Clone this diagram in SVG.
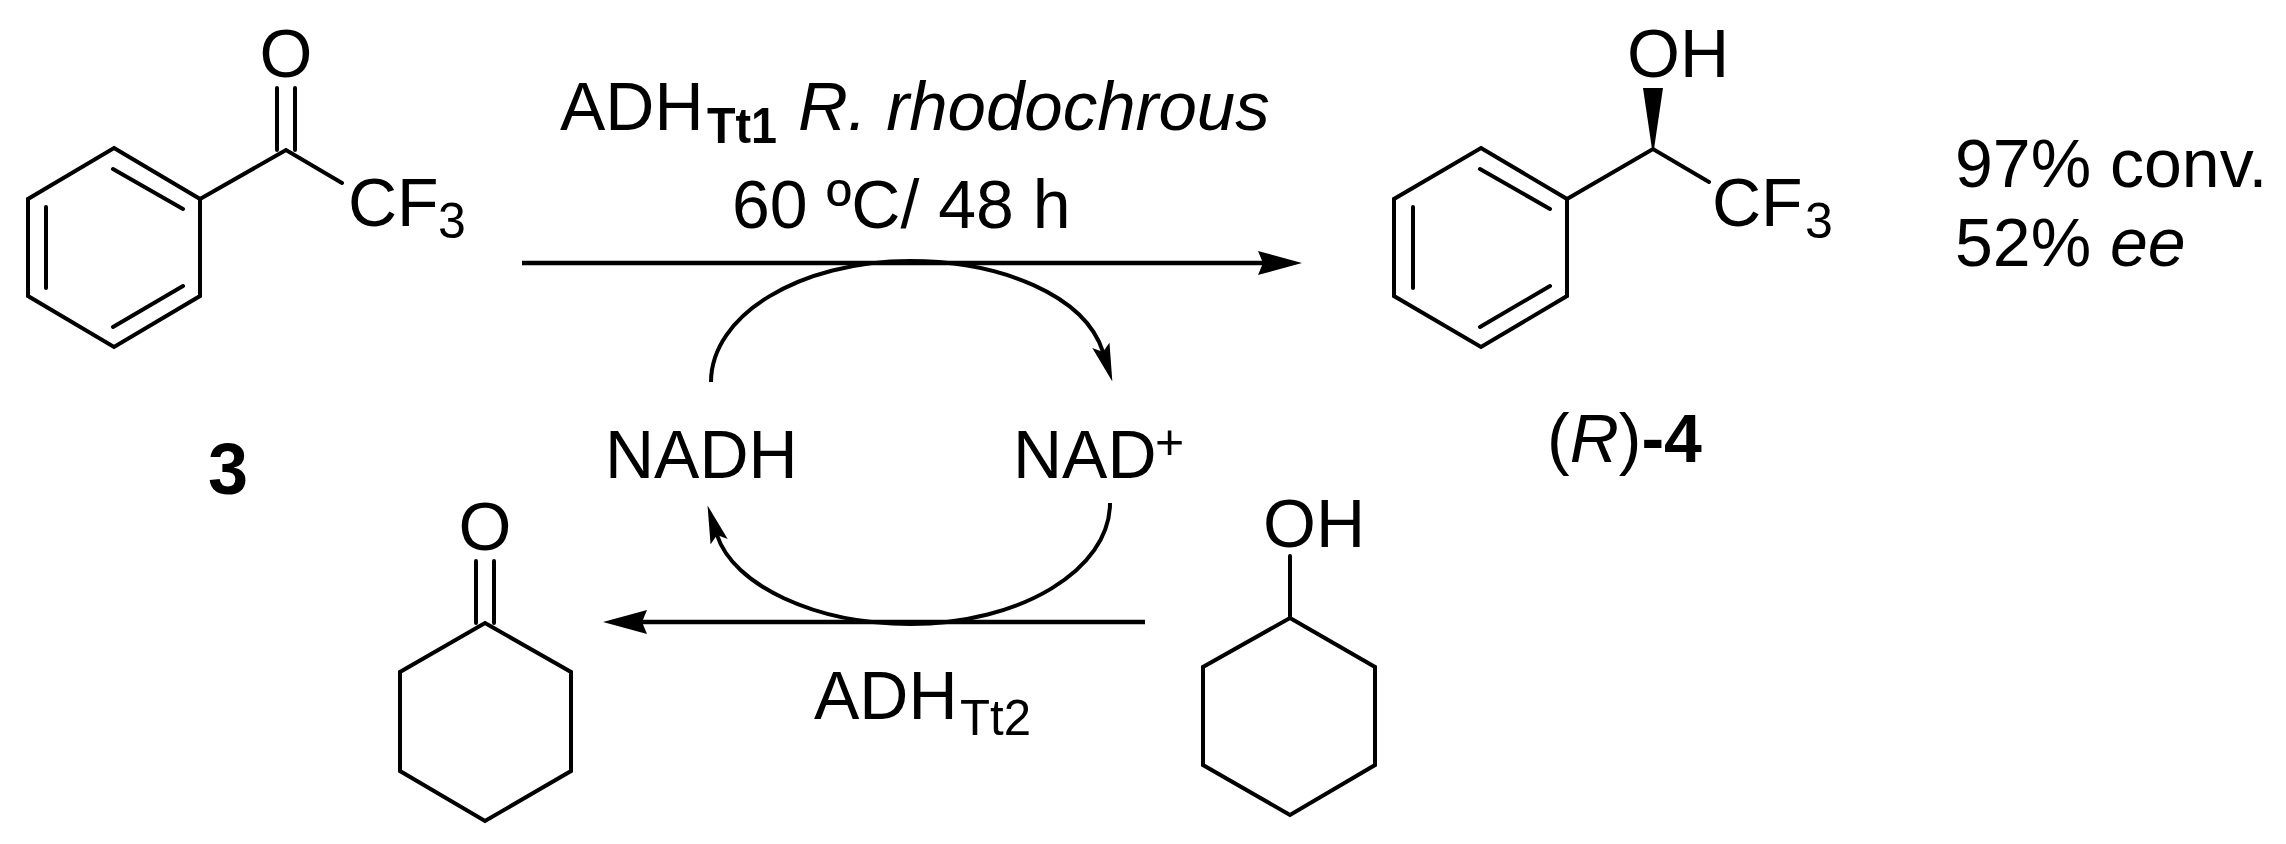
<svg xmlns="http://www.w3.org/2000/svg" width="2286" height="844" viewBox="0 0 2286 844">
<style>
text{font-family:"Liberation Sans",Arial,sans-serif;font-size:68px;fill:#000}
.sub{font-size:50px}
.b{font-weight:bold}
.i{font-style:italic}
.bond{fill:none;stroke:#000;stroke-width:4;stroke-linejoin:miter;stroke-linecap:round}
.arrow{fill:none;stroke:#000;stroke-width:4.5}
.arc{fill:none;stroke:#000;stroke-width:4}
</style>
<defs>
<marker id="headL" markerUnits="userSpaceOnUse" viewBox="-5 -12 44 24" refX="0" refY="0" markerWidth="44" markerHeight="24" orient="auto"><polygon points="-5,-12 39,0 -5,12 0,0" fill="#000"/></marker>
<marker id="headS" markerUnits="userSpaceOnUse" viewBox="-7 -9 38 18" refX="0" refY="0" markerWidth="38" markerHeight="18" orient="auto"><polygon points="-7,-9 31,0 -7,9 0,0" fill="#000"/></marker>
</defs>
<rect width="2286" height="844" fill="#fff"/>
<g id="substrate-3">
<path class="bond" d="M114 148L200 199V296L114 347L28 296V199Z"/>
<path class="bond" d="M113 169L183 209M46 207V288M113 327L183 286M200 199L286 150L342 183M277 88V150M295 88V150"/>
<text x="286" y="77" text-anchor="middle">O</text>
<text x="348" y="226">CF<tspan class="sub" x="438" y="238">3</tspan></text>
<text class="b" style="font-size:72px" x="228" y="494" text-anchor="middle">3</text>
</g>
<g id="product-4">
<path class="bond" d="M1481 148L1567 199V296L1481 347L1394 296V199Z"/>
<path class="bond" d="M1480 169L1550 209M1413 207V288M1480 327L1550 286M1567 199L1653 149L1709 182"/>
<polygon points="1643,88 1663,88 1654,149 1652,149" fill="#000"/>
<text x="1627" y="77">OH</text>
<text x="1712" y="226">CF<tspan class="sub" x="1805" y="238">3</tspan></text>
<text x="1547" y="462">(<tspan class="i">R</tspan>)<tspan class="b">-4</tspan></text>
</g>
<g id="result">
<text x="1955" y="187">97% conv.</text>
<text x="1955" y="266">52% <tspan class="i">ee</tspan></text>
</g>
<g id="conditions-top">
<text x="560" y="130">ADH<tspan class="sub b" x="707" y="143" textLength="70" lengthAdjust="spacingAndGlyphs">Tt1</tspan><tspan class="i" style="font-size:69px" x="798" y="130">R. rhodochrous</tspan></text>
<text x="732" y="228">60 ºC/ 48 h</text>
</g>
<g id="nadh"><text x="605" y="478">NADH</text></g>
<g id="nad"><text x="1013" y="478">NAD<tspan class="sub" x="1155" y="459">+</tspan></text></g>
<g id="cyclohexanone">
<path class="bond" d="M485 623L571 672V771L485 821L400 771V672Z"/>
<path class="bond" d="M476 561V623M494 561V623"/>
<text x="485" y="550" text-anchor="middle">O</text>
</g>
<g id="cyclohexanol">
<path class="bond" d="M1290 618L1375 667V765L1290 815L1203 765V667Z"/>
<path class="bond" d="M1290 556V618"/>
<text x="1263" y="547">OH</text>
</g>
<g id="conditions-bottom">
<text x="814" y="719">ADH<tspan class="sub" x="960" y="735" textLength="71" lengthAdjust="spacingAndGlyphs">Tt2</tspan></text>
</g>
<g id="connectors">
<path class="arrow" d="M522 263H1263" marker-end="url(#headL)"/>
<path class="arrow" d="M1145 622H642" marker-end="url(#headL)"/>
<path class="arc" d="M711 382C711 315 800 261 910 261C1000 261 1085 295 1103 352" marker-end="url(#headS)"/>
<path class="arc" d="M1110 503C1110 570 1020 624 910 624C815 624 733 585 717 535" marker-end="url(#headS)"/>
</g>
</svg>
